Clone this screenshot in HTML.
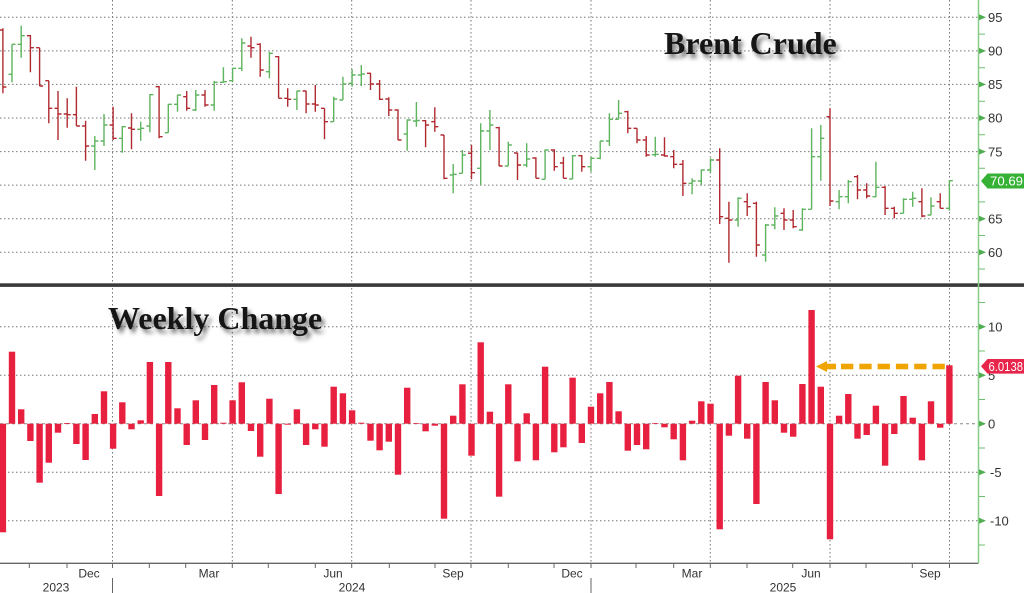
<!DOCTYPE html>
<html><head><meta charset="utf-8"><style>
html,body{margin:0;padding:0;background:#fff;}
#w{position:relative;width:1024px;height:593px;overflow:hidden;background:#fff;}
svg{position:absolute;left:0;top:0;}
.t{position:absolute;font-family:"Liberation Serif",serif;font-weight:bold;font-size:32px;color:#151515;text-shadow:3px 4px 4px rgba(0,0,0,0.55);white-space:nowrap;line-height:1;}
</style></head><body><div id="w">
<svg width="1024" height="593" viewBox="0 0 1024 593" xmlns="http://www.w3.org/2000/svg">
<g stroke="#777" stroke-width="1" stroke-dasharray="1.5 2.5" fill="none">
<path d="M0 17.3H978M0 50.9H978M0 84.4H978M0 118H978M0 151.6H978M0 185.1H978M0 218.7H978M0 252.3H978"/>
<path d="M0 326.7H978M0 375.2H978M0 472.2H978M0 520.7H978"/>
<path d="M112.5 0V563M232.3 0V563M351.7 0V563M471 0V563M591 0V563M710.3 0V563M830 0V563M949.5 0V563"/>
</g>
<path d="M0 423.7H978" stroke="#888" stroke-width="1" stroke-dasharray="3 3"/>
<g fill="#e8203f">
<rect x="-0.3" y="423.7" width="6.4" height="108.6"/><rect x="8.8" y="351.7" width="6.4" height="72"/><rect x="18" y="409.3" width="6.4" height="14.4"/><rect x="27.2" y="423.7" width="6.4" height="17.3"/><rect x="36.4" y="423.7" width="6.4" height="59"/><rect x="45.6" y="423.7" width="6.4" height="39"/><rect x="54.8" y="423.7" width="6.4" height="9"/><rect x="64" y="423" width="6.4" height="0.8"/><rect x="73.2" y="423.7" width="6.4" height="20.3"/><rect x="82.4" y="423.7" width="6.4" height="36.3"/>
<rect x="91.6" y="414" width="6.4" height="9.7"/><rect x="100.8" y="391.3" width="6.4" height="32.4"/><rect x="109.9" y="423.7" width="6.4" height="25"/><rect x="119.1" y="402.3" width="6.4" height="21.4"/><rect x="128.3" y="423.7" width="6.4" height="5.6"/><rect x="137.5" y="420.3" width="6.4" height="3.4"/><rect x="146.7" y="362" width="6.4" height="61.7"/><rect x="155.9" y="423.7" width="6.4" height="72.3"/><rect x="165.1" y="362" width="6.4" height="61.7"/><rect x="174.3" y="408.3" width="6.4" height="15.4"/>
<rect x="183.5" y="423.7" width="6.4" height="21.3"/><rect x="192.6" y="400.3" width="6.4" height="23.4"/><rect x="201.8" y="423.7" width="6.4" height="16.3"/><rect x="211" y="385" width="6.4" height="38.7"/><rect x="220.2" y="422.7" width="6.4" height="1"/><rect x="229.4" y="400.3" width="6.4" height="23.4"/><rect x="238.6" y="382.3" width="6.4" height="41.4"/><rect x="247.8" y="423.7" width="6.4" height="7.3"/><rect x="257" y="423.7" width="6.4" height="33"/><rect x="266.2" y="398.7" width="6.4" height="25"/>
<rect x="275.4" y="423.7" width="6.4" height="70.3"/><rect x="284.5" y="423.7" width="6.4" height="1"/><rect x="293.7" y="409.3" width="6.4" height="14.4"/><rect x="302.9" y="423.7" width="6.4" height="21.3"/><rect x="312.1" y="423.7" width="6.4" height="5.6"/><rect x="321.3" y="423.7" width="6.4" height="23"/><rect x="330.5" y="386.7" width="6.4" height="37"/><rect x="339.7" y="393.3" width="6.4" height="30.4"/><rect x="348.9" y="410.3" width="6.4" height="13.4"/><rect x="358.1" y="422.7" width="6.4" height="1"/>
<rect x="367.3" y="423.7" width="6.4" height="17"/><rect x="376.4" y="423.7" width="6.4" height="26.6"/><rect x="385.6" y="423.7" width="6.4" height="18"/><rect x="394.8" y="423.7" width="6.4" height="51"/><rect x="404" y="387.7" width="6.4" height="36"/><rect x="413.2" y="423" width="6.4" height="0.7"/><rect x="422.4" y="423.7" width="6.4" height="7.6"/><rect x="431.6" y="423.7" width="6.4" height="2"/><rect x="440.8" y="423.7" width="6.4" height="95"/><rect x="450" y="415.7" width="6.4" height="8"/>
<rect x="459.2" y="384.3" width="6.4" height="39.4"/><rect x="468.3" y="423.7" width="6.4" height="32"/><rect x="477.5" y="342.3" width="6.4" height="81.4"/><rect x="486.7" y="411.7" width="6.4" height="12"/><rect x="495.9" y="423.7" width="6.4" height="73"/><rect x="505.1" y="384.3" width="6.4" height="39.4"/><rect x="514.3" y="423.7" width="6.4" height="37.6"/><rect x="523.5" y="413.3" width="6.4" height="10.4"/><rect x="532.7" y="423.7" width="6.4" height="36.6"/><rect x="541.9" y="366.7" width="6.4" height="57"/>
<rect x="551.1" y="423.7" width="6.4" height="28.6"/><rect x="560.2" y="423.7" width="6.4" height="23.6"/><rect x="569.4" y="377.7" width="6.4" height="46"/><rect x="578.6" y="423.7" width="6.4" height="19.3"/><rect x="587.8" y="406.7" width="6.4" height="17"/><rect x="597" y="393.3" width="6.4" height="30.4"/><rect x="606.2" y="382" width="6.4" height="41.7"/><rect x="615.4" y="411.3" width="6.4" height="12.4"/><rect x="624.6" y="423.7" width="6.4" height="27"/><rect x="633.8" y="423.7" width="6.4" height="21.3"/>
<rect x="643" y="423.7" width="6.4" height="25.6"/><rect x="652.1" y="423" width="6.4" height="0.7"/><rect x="661.3" y="423.7" width="6.4" height="3.6"/><rect x="670.5" y="423.7" width="6.4" height="15.6"/><rect x="679.7" y="423.7" width="6.4" height="36.6"/><rect x="688.9" y="420.7" width="6.4" height="3"/><rect x="698.1" y="401.3" width="6.4" height="22.4"/><rect x="707.3" y="403.7" width="6.4" height="20"/><rect x="716.5" y="423.7" width="6.4" height="105.6"/><rect x="725.7" y="423.7" width="6.4" height="12"/>
<rect x="734.9" y="375.7" width="6.4" height="48"/><rect x="744" y="423.7" width="6.4" height="15"/><rect x="753.2" y="423.7" width="6.4" height="80.3"/><rect x="762.4" y="382" width="6.4" height="41.7"/><rect x="771.6" y="400.3" width="6.4" height="23.4"/><rect x="780.8" y="423.7" width="6.4" height="9"/><rect x="790" y="423.7" width="6.4" height="13"/><rect x="799.2" y="384" width="6.4" height="39.7"/><rect x="808.4" y="310" width="6.4" height="113.7"/><rect x="817.6" y="386.7" width="6.4" height="37"/>
<rect x="826.8" y="423.7" width="6.4" height="115.6"/><rect x="835.9" y="415.7" width="6.4" height="8"/><rect x="845.1" y="394" width="6.4" height="29.7"/><rect x="854.3" y="423.7" width="6.4" height="15"/><rect x="863.5" y="423.7" width="6.4" height="11.3"/><rect x="872.7" y="405.7" width="6.4" height="18"/><rect x="881.9" y="423.7" width="6.4" height="42"/><rect x="891.1" y="423.7" width="6.4" height="10.3"/><rect x="900.3" y="396" width="6.4" height="27.7"/><rect x="909.5" y="417.7" width="6.4" height="6"/>
<rect x="918.7" y="423.7" width="6.4" height="36.6"/><rect x="927.8" y="401.3" width="6.4" height="22.4"/><rect x="937" y="423.7" width="6.4" height="4"/><rect x="946.2" y="365.3" width="6.4" height="58.4"/>
</g>
<path fill="none" stroke="#b02a30" stroke-width="1.4" d="M2.9 28.3V93.3M-0.6 30h3.5M2.9 87h3.5M30.4 35V72.3M26.9 35.7h3.5M30.4 47.7h3.5M39.6 47.7V86M36.1 47.7h3.5M39.6 86h3.5M48.8 80.7V123.3M45.3 80.7h3.5M48.8 108.3h3.5M58 91V140M54.5 108.3h3.5M58 114h3.5M67.2 98.3V127.7M63.7 114h3.5M67.2 114.7h3.5M76.4 86.7V126M72.9 114.7h3.5M76.4 126h3.5M85.6 120.7V160.7M82.1 126h3.5M85.6 146h3.5M113.1 106.7V140M109.6 125h3.5M113.1 138.3h3.5M131.5 113.3V149.3M128 128h3.5M131.5 129.3h3.5M159.1 86V138.3M155.6 86.7h3.5M159.1 136.7h3.5M186.7 91V110.7M183.2 96.7h3.5M186.7 108.3h3.5M205 90V106.7M201.5 95h3.5M205 105h3.5M251 36.7V57.7M247.5 46h3.5M251 47.7h3.5M260.2 43.3V76.7M256.7 44.3h3.5M260.2 70h3.5M278.6 56V98.3M275.1 56.7h3.5M278.6 98.3h3.5M287.7 88.3V106.7M284.2 98.3h3.5M287.7 99.3h3.5M306.1 90.7V113.3M302.6 91h3.5M306.1 104h3.5M315.3 85V111.7M311.8 104h3.5M315.3 105h3.5M324.5 108.3V139.3M321 108.3h3.5M324.5 121.7h3.5M370.5 72.7V90M367 73.3h3.5M370.5 84h3.5M379.6 80V100M376.1 84h3.5M379.6 99.3h3.5M388.8 97.3V116M385.3 99h3.5M388.8 110h3.5M398 109.3V140M394.5 110h3.5M398 140h3.5M425.6 120V147.3M422.1 120.7h3.5M425.6 125h3.5M434.8 107.3V131.7M431.3 121.7h3.5M434.8 126.7h3.5M444 135V179.3M440.5 135h3.5M444 178.3h3.5M471.5 145V179.3M468 153.3h3.5M471.5 172.7h3.5M499.1 126.7V166M495.6 127.7h3.5M499.1 166h3.5M517.5 152.7V180M514 153h3.5M517.5 165h3.5M535.9 157.3V178.3M532.4 158h3.5M535.9 178.3h3.5M554.3 149.3V170.7M550.8 150h3.5M554.3 166.7h3.5M563.4 156.7V178.3M559.9 163h3.5M563.4 178.3h3.5M581.8 155V171.7M578.3 155.7h3.5M581.8 166.7h3.5M627.8 110.7V133.3M624.3 111.7h3.5M627.8 128.3h3.5M637 128.3V143.3M633.5 128.3h3.5M637 140h3.5M646.2 136V156.7M642.7 140h3.5M646.2 155h3.5M664.5 137.3V156.7M661 155h3.5M664.5 156h3.5M673.7 150V168.3M670.2 156.7h3.5M673.7 164.3h3.5M682.9 160V196M679.4 164.3h3.5M682.9 183.3h3.5M719.7 148.3V224M716.2 160h3.5M719.7 216.7h3.5M728.9 201.7V262.7M725.4 218.3h3.5M728.9 220h3.5M747.2 193.3V216M743.7 201.7h3.5M747.2 206.7h3.5M756.4 201.7V256.7M752.9 203.3h3.5M756.4 245h3.5M784 208.3V230M780.5 213.3h3.5M784 220h3.5M793.2 210V228.3M789.7 220h3.5M793.2 226.7h3.5M830 108.3V206M826.5 116.7h3.5M830 201h3.5M857.5 175V199.3M854 176.7h3.5M857.5 190h3.5M866.7 183.3V198.3M863.2 190h3.5M866.7 196h3.5M885.1 186V215M881.6 187.3h3.5M885.1 208.3h3.5M894.3 206.7V218.3M890.8 208.3h3.5M894.3 213.3h3.5M921.9 188.3V217.3M918.4 201.7h3.5M921.9 216h3.5M940.2 193.3V208.3M936.7 201.7h3.5M940.2 208.3h3.5"/>
<path fill="none" stroke="#5fb45f" stroke-width="1.4" d="M12 44.3V82.3M8.5 74.3h3.5M12 44.3h3.5M21.2 25.7V57.7M17.7 44.3h3.5M21.2 35.7h3.5M94.8 136V170M91.3 146h3.5M94.8 141h3.5M104 114V146M100.5 141h3.5M104 125h3.5M122.3 126V152.7M118.8 138.3h3.5M122.3 126.7h3.5M140.7 121.7V140.7M137.2 129.3h3.5M140.7 128.3h3.5M149.9 94V132.3M146.4 126h3.5M149.9 94.7h3.5M168.3 104V132.7M164.8 132.7h3.5M168.3 104.3h3.5M177.5 95V111.7M174 104.3h3.5M177.5 95h3.5M195.8 90V111M192.3 110h3.5M195.8 95h3.5M214.2 81V110.7M210.7 105h3.5M214.2 82.3h3.5M223.4 67.3V82.7M219.9 82.3h3.5M223.4 81.7h3.5M232.6 67.7V82.3M229.1 80.7h3.5M232.6 68.3h3.5M241.8 38.3V71M238.3 68.3h3.5M241.8 43h3.5M269.4 51.7V78.3M265.9 71.7h3.5M269.4 53.3h3.5M296.9 90.7V110M293.4 99.3h3.5M296.9 91h3.5M333.7 96.7V121.7M330.2 121.7h3.5M333.7 99h3.5M342.9 76.7V100M339.4 100h3.5M342.9 84h3.5M352.1 69.3V86.7M348.6 83.3h3.5M352.1 75h3.5M361.3 65V86M357.8 75h3.5M361.3 74h3.5M407.2 119.3V150.7M403.7 134h3.5M407.2 120h3.5M416.4 102V126.7M412.9 121h3.5M416.4 120.5h3.5M453.2 164V193.3M449.7 175h3.5M453.2 174.3h3.5M462.4 150V173.3M458.9 173.3h3.5M462.4 155h3.5M480.7 123.3V185M477.2 168.3h3.5M480.7 131h3.5M489.9 110V150M486.4 131h3.5M489.9 125h3.5M508.3 141.7V166M504.8 166h3.5M508.3 145h3.5M526.7 143.3V167.3M523.2 165h3.5M526.7 159h3.5M545.1 149.3V179.3M541.6 179.3h3.5M545.1 150h3.5M572.6 155V179M569.1 179h3.5M572.6 155.7h3.5M591 156.7V171.7M587.5 166.7h3.5M591 158.3h3.5M600.2 141V159.3M596.7 158.3h3.5M600.2 141h3.5M609.4 113.3V146M605.9 141h3.5M609.4 119.3h3.5M618.6 100V119.3M615.1 119.3h3.5M618.6 113.3h3.5M655.3 136.7V156.7M651.8 154.7h3.5M655.3 154.3h3.5M692.1 178.3V194.3M688.6 183.3h3.5M692.1 181h3.5M701.3 169.3V185M697.8 181h3.5M701.3 170h3.5M710.5 158.3V172.7M707 170h3.5M710.5 160h3.5M738.1 197.3V226.7M734.6 220h3.5M738.1 198.3h3.5M765.6 224V261.7M762.1 255h3.5M765.6 225h3.5M774.8 207.3V229.3M771.3 225h3.5M774.8 216h3.5M802.4 208.3V230.7M798.9 230h3.5M802.4 209.3h3.5M811.6 128.3V209.3M808.1 209.3h3.5M811.6 156.7h3.5M820.8 125V180.7M817.3 156.7h3.5M820.8 138.3h3.5M839.1 190V209.3M835.6 201.7h3.5M839.1 196.7h3.5M848.3 180V203.3M844.8 196.7h3.5M848.3 181.7h3.5M875.9 161.7V197.3M872.4 196.7h3.5M875.9 187.3h3.5M903.5 198.3V213.3M900 213.3h3.5M903.5 199.3h3.5M912.7 191.7V206.7M909.2 199.3h3.5M912.7 198.3h3.5M931 197.3V215M927.5 215h3.5M931 206h3.5M949.4 180V210.7M945.9 208.3h3.5M949.4 180.7h3.5"/>
<rect x="0" y="283.3" width="1024" height="3.6" fill="#3a3a3a"/>
<path d="M0 563.3H978.5" stroke="#666" stroke-width="1.3"/>
<path stroke="#666" stroke-width="1" d="M29.3 563V568M67 563V568M112.5 563V568M149.3 563V568M185.7 563V568M232.3 563V568M268.3 563V568M315.3 563V568M351.7 563V568M389.3 563V568M435 563V568M471 563V568M508.3 563V568M554 563V568M591 563V568M636 563V568M673.7 563V568M710.3 563V568M747 563V568M792.7 563V568M830 563V568M866 563V568M912.3 563V568M949.5 563V568M112.5 578V593M591 578V593"/>
<g font-family="'Liberation Sans',sans-serif" font-size="12" fill="#333" text-anchor="middle">
<text x="89" y="577.5">Dec</text><text x="209" y="577.5">Mar</text><text x="333" y="577.5">Jun</text><text x="453" y="577.5">Sep</text>
<text x="572" y="577.5">Dec</text><text x="692" y="577.5">Mar</text><text x="811" y="577.5">Jun</text><text x="930" y="577.5">Sep</text>
<text x="56" y="591.5">2023</text><text x="352" y="591.5">2024</text><text x="783" y="591.5">2025</text>
</g>
<path d="M978.5 0V563.3" stroke="#86cc86" stroke-width="1.5"/>
<path stroke="#6cbf6c" stroke-width="1" d="M979 34.1h6M979 67.7h6M979 101.2h6M979 134.8h6M979 168.3h6M979 201.9h6M979 235.5h6M979 269h6M979 302.5h6M979 351h6M979 399.5h6M979 448h6M979 496.5h6M979 545h6"/>
<g fill="#4fae4f">
<path d="M979 14.3L986 17.3L979 20.3Z"/><path d="M979 47.9L986 50.9L979 53.9Z"/><path d="M979 81.4L986 84.4L979 87.4Z"/><path d="M979 115L986 118L979 121Z"/><path d="M979 148.6L986 151.6L979 154.6Z"/><path d="M979 215.7L986 218.7L979 221.7Z"/><path d="M979 249.3L986 252.3L979 255.3Z"/>
<path d="M979 323.7L986 326.7L979 329.7Z"/><path d="M979 372.2L986 375.2L979 378.2Z"/><path d="M979 420.7L986 423.7L979 426.7Z"/><path d="M979 469.2L986 472.2L979 475.2Z"/><path d="M979 517.7L986 520.7L979 523.7Z"/>
</g>
<g font-family="'Liberation Sans',sans-serif" font-size="13" fill="#333">
<text x="988" y="22">95</text><text x="988" y="55.6">90</text><text x="988" y="89.1">85</text><text x="988" y="122.7">80</text><text x="988" y="156.3">75</text><text x="988" y="223.4">65</text><text x="988" y="257">60</text>
<text x="988" y="331.4">10</text><text x="988" y="379.9">5</text><text x="988" y="428.4">0</text><text x="990" y="476.9">-5</text><text x="990" y="525.4">-10</text>
</g>
<path d="M981 181L987.5 173.5H1024V188.5H987.5Z" fill="#35b235"/>
<text x="990" y="185.6" font-family="'Liberation Sans',sans-serif" font-size="13" fill="#fff" textLength="33" lengthAdjust="spacingAndGlyphs">70.69</text>
<path d="M981 366.3L987.5 359H1024V373.6H987.5Z" fill="#e8254a"/>
<text x="988.5" y="371" font-family="'Liberation Sans',sans-serif" font-size="13" fill="#fff" textLength="34.5" lengthAdjust="spacingAndGlyphs">6.0138</text>
<g fill="#f0a400">
<path d="M816 366.5L827 361L827 372Z"/>
<rect x="826" y="363.7" width="10" height="5.6"/>
<rect x="841" y="363.7" width="12.3" height="5.6"/><rect x="859.3" y="363.7" width="12.3" height="5.6"/><rect x="877.6" y="363.7" width="12.3" height="5.6"/><rect x="895.9" y="363.7" width="12.3" height="5.6"/><rect x="914.2" y="363.7" width="12.3" height="5.6"/><rect x="932.5" y="363.7" width="12.3" height="5.6"/>
</g>
</svg>
<div class="t" style="left:664px;top:27px;">Brent Crude</div>
<div class="t" style="left:108px;top:302px;">Weekly Change</div>
</div></body></html>
